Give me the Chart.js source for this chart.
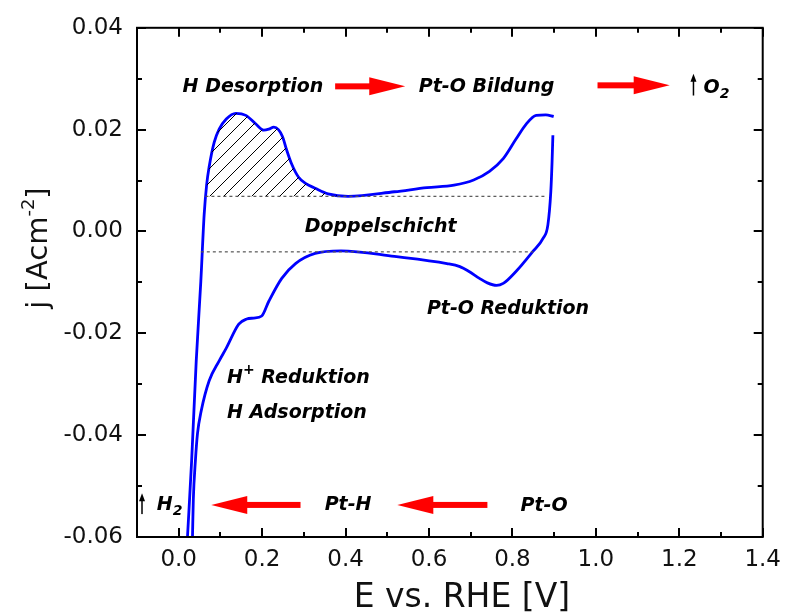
<!DOCTYPE html>
<html>
<head>
<meta charset="utf-8">
<script src="https://cdn.jsdelivr.net/npm/chart.js@4.4.1/dist/chart.umd.min.js"></script>
<style>
  html, body { margin: 0; padding: 0; background: #fff; }
  #wrap { width: 790px; height: 612px; }
</style>
</head>
<body>
<div id="wrap"><canvas id="cvChart" width="790" height="612"></canvas></div>
<script>
// --- DATA ---
// anodic sweep (upper branch), potential E [V] and current density j [A/cm2]
const anodicE = [0.021, 0.031, 0.042, 0.053, 0.061, 0.067, 0.073, 0.085, 0.097, 0.114, 0.137, 0.161, 0.185, 0.204, 0.216, 0.228, 0.239, 0.249, 0.258, 0.270, 0.287, 0.305, 0.327, 0.358, 0.406, 0.517, 0.595, 0.660, 0.707, 0.745, 0.778, 0.809, 0.833, 0.857, 0.880, 0.899];
const anodicJ = [-0.060, -0.045, -0.0254, -0.0098, 0.0033, 0.0092, 0.0127, 0.0175, 0.0201, 0.0221, 0.0232, 0.0228, 0.0211, 0.0199, 0.0201, 0.0205, 0.0200, 0.0186, 0.0162, 0.0134, 0.0107, 0.0094, 0.0085, 0.0074, 0.0069, 0.0078, 0.0086, 0.0091, 0.0101, 0.0118, 0.0143, 0.0182, 0.0211, 0.0228, 0.0229, 0.0226];

// cathodic sweep (lower branch)
const cathodicE = [0.897, 0.895, 0.892, 0.885, 0.873, 0.849, 0.809, 0.778, 0.762, 0.740, 0.721, 0.695, 0.674, 0.643, 0.517, 0.389, 0.327, 0.280, 0.247, 0.216, 0.199, 0.180, 0.163, 0.144, 0.114, 0.097, 0.073, 0.054, 0.045, 0.040, 0.035, 0.033];
const cathodicJ = [0.0189, 0.0136, 0.0078, 0.0013, -0.0014, -0.0039, -0.0078, -0.0102, -0.0106, -0.0101, -0.0092, -0.0078, -0.0069, -0.0063, -0.0049, -0.0038, -0.0043, -0.0063, -0.0092, -0.0137, -0.0166, -0.0170, -0.0172, -0.0182, -0.0229, -0.0254, -0.0293, -0.0352, -0.0397, -0.0450, -0.0527, -0.0600];

// double layer baselines (dashed)
const upperBaseE = [0.064, 0.882];
const upperBaseJ = 0.0069;
const lowerBaseE = [0.053, 0.850];
const lowerBaseJ = -0.0040;

// hatched H desorption area: anodic points above the upper baseline up to this potential
const hatchMaxE = 0.41;

// axis ranges
const xRange = [-0.1, 1.4];
const yRange = [-0.06, 0.04];

// --- annotations (data coordinates) ---
const textNotes = [
    { parts: [{ t: 'H Desorption' }], x: 0.178, y: 0.0283, align: 'center' },
    { parts: [{ t: 'Pt-O Bildung' }], x: 0.738, y: 0.0283, align: 'center' },
    { parts: [{ t: 'O' }, { t: '2', sub: true }], x: 1.258, y: 0.0281, align: 'left' },
    { parts: [{ t: 'Doppelschicht' }], x: 0.484, y: 0.0009, align: 'center' },
    { parts: [{ t: 'Pt-O Reduktion' }], x: 0.595, y: -0.0153, align: 'left' },
    { parts: [{ t: 'H' }, { t: '+', sup: true }, { t: ' Reduktion' }], x: 0.116, y: -0.0287, align: 'left' },
    { parts: [{ t: 'H Adsorption' }], x: 0.116, y: -0.0356, align: 'left' },
    { parts: [{ t: 'H' }, { t: '2', sub: true }], x: -0.0525, y: -0.0537, align: 'left' },
    { parts: [{ t: 'Pt-H' }], x: 0.406, y: -0.0537, align: 'center' },
    { parts: [{ t: 'Pt-O' }], x: 0.876, y: -0.0539, align: 'center' }
];

const arrowNotes = [
    { from: [0.375, 0.0285], to: [0.543, 0.0285], color: '#ff0000', shaft: 6, head: 36, half: 9 },
    { from: [1.004, 0.0287], to: [1.177, 0.0287], color: '#ff0000', shaft: 6, head: 36, half: 9 },
    { from: [0.292, -0.0537], to: [0.078, -0.0537], color: '#ff0000', shaft: 6, head: 36, half: 9 },
    { from: [0.740, -0.0537], to: [0.524, -0.0537], color: '#ff0000', shaft: 6, head: 36, half: 9 },
    { from: [1.234, 0.0267], to: [1.234, 0.0310], color: '#000', shaft: 1.5, head: 8, half: 3 },
    { from: [-0.088, -0.0555], to: [-0.088, -0.0514], color: '#000', shaft: 1.5, head: 8, half: 3 }
];

const toPts = (xs, ys) => xs.map((v, i) => ({ x: v, y: Array.isArray(ys) ? ys[i] : ys }));

const hatchPts = toPts(anodicE, anodicJ).filter(p => p.y >= upperBaseJ && p.x > 0 && p.x <= hatchMaxE);

// hatch pattern
function makeHatch() {
    const s = 14;
    const c = document.createElement('canvas');
    c.width = s; c.height = s;
    const g = c.getContext('2d');
    g.strokeStyle = '#000';
    g.lineWidth = 1;
    g.beginPath();
    g.moveTo(0, s); g.lineTo(s, 0);
    g.moveTo(-2, 2); g.lineTo(2, -2);
    g.moveTo(s - 2, s + 2); g.lineTo(s + 2, s - 2);
    g.stroke();
    return g.createPattern(c, 'repeat');
}

const noteFont = (size) => 'italic bold ' + size + 'px "DejaVu Sans"';

function drawRich(ctx, parts, px, py, align) {
    const base = 19;
    const small = 14;
    let total = 0;
    parts.forEach(p => {
        ctx.font = noteFont(p.sub || p.sup ? small : base);
        p.w = ctx.measureText(p.t).width;
        total += p.w;
    });
    let cx = align === 'center' ? px - total / 2 : px;
    ctx.textAlign = 'left';
    ctx.textBaseline = 'middle';
    parts.forEach(p => {
        ctx.font = noteFont(p.sub || p.sup ? small : base);
        const dy = p.sub ? 6 : (p.sup ? -7 : 0);
        ctx.fillText(p.t, cx, py + dy);
        cx += p.w;
    });
}

function drawArrow(ctx, x0, y0, x1, y1, a) {
    const ang = Math.atan2(y1 - y0, x1 - x0);
    const len = Math.hypot(x1 - x0, y1 - y0);
    ctx.save();
    ctx.translate(x0, y0);
    ctx.rotate(ang);
    ctx.fillStyle = a.color;
    ctx.fillRect(0, -a.shaft / 2, len - a.head + 1, a.shaft);
    ctx.beginPath();
    ctx.moveTo(len, 0);
    ctx.lineTo(len - a.head, -a.half);
    ctx.lineTo(len - a.head, a.half);
    ctx.closePath();
    ctx.fill();
    ctx.restore();
}

// frame, inward ticks, titles and notes
const decorPlugin = {
    id: 'decor',
    afterDraw(chart) {
        const { ctx, chartArea: a, scales: { x, y } } = chart;
        ctx.save();
        ctx.strokeStyle = '#000';
        ctx.lineWidth = 2;
        ctx.strokeRect(a.left, a.top, a.right - a.left, a.bottom - a.top);

        ctx.beginPath();
        x.ticks.forEach(t => {
            const px = Math.round(x.getPixelForValue(t.value));
            const len = t.label ? 9 : 5;
            ctx.moveTo(px, a.bottom); ctx.lineTo(px, a.bottom - len);
            ctx.moveTo(px, a.top); ctx.lineTo(px, a.top + len);
        });
        y.ticks.forEach(t => {
            const py = Math.round(y.getPixelForValue(t.value));
            const len = t.label ? 9 : 5;
            ctx.moveTo(a.left, py); ctx.lineTo(a.left + len, py);
            ctx.moveTo(a.right, py); ctx.lineTo(a.right - len, py);
        });
        ctx.stroke();

        // axis titles
        ctx.fillStyle = '#111';
        ctx.font = '33px "DejaVu Sans"';
        ctx.textAlign = 'center';
        ctx.textBaseline = 'alphabetic';
        ctx.fillText('E vs. RHE [V]', (a.left + a.right) / 2 + 12, 607);

        ctx.save();
        ctx.translate(47, 248);
        ctx.rotate(-Math.PI / 2);
        ctx.textAlign = 'left';
        ctx.font = '29px "DejaVu Sans"';
        const p1 = 'j [Acm', p2 = '-2', p3 = ']';
        const w1 = ctx.measureText(p1).width;
        const w3 = ctx.measureText(p3).width;
        ctx.font = '18px "DejaVu Sans"';
        const w2 = ctx.measureText(p2).width;
        const sx = -(w1 + w2 + w3) / 2;
        ctx.font = '29px "DejaVu Sans"';
        ctx.fillText(p1, sx, 0);
        ctx.font = '18px "DejaVu Sans"';
        ctx.fillText(p2, sx + w1, -13);
        ctx.font = '29px "DejaVu Sans"';
        ctx.fillText(p3, sx + w1 + w2, 0);
        ctx.restore();

        // arrows
        arrowNotes.forEach(n => {
            drawArrow(ctx,
                x.getPixelForValue(n.from[0]), y.getPixelForValue(n.from[1]),
                x.getPixelForValue(n.to[0]), y.getPixelForValue(n.to[1]), n);
        });

        // notes
        ctx.fillStyle = '#000';
        textNotes.forEach(n => {
            drawRich(ctx, n.parts, x.getPixelForValue(n.x), y.getPixelForValue(n.y), n.align);
        });
        ctx.restore();
    }
};

const ctx = document.getElementById('cvChart').getContext('2d');

const curveStyle = {
    showLine: true,
    borderColor: '#0000ff',
    borderWidth: 2.8,
    cubicInterpolationMode: 'monotone',
    pointRadius: 0
};

new Chart(ctx, {
    type: 'scatter',
    data: {
        datasets: [
            {
                data: hatchPts,
                showLine: true,
                borderWidth: 0,
                borderColor: 'rgba(0,0,0,0)',
                backgroundColor: makeHatch(),
                fill: { value: upperBaseJ },
                cubicInterpolationMode: 'monotone',
                pointRadius: 0
            },
            {
                data: toPts(upperBaseE, upperBaseJ),
                showLine: true,
                borderColor: '#555',
                borderWidth: 1.2,
                borderDash: [3, 3],
                pointRadius: 0
            },
            {
                data: toPts(lowerBaseE, lowerBaseJ),
                showLine: true,
                borderColor: '#555',
                borderWidth: 1.2,
                borderDash: [3, 3],
                pointRadius: 0
            },
            Object.assign({ data: toPts(anodicE, anodicJ) }, curveStyle),
            Object.assign({ data: toPts(cathodicE, cathodicJ) }, curveStyle)
        ]
    },
    options: {
        responsive: false,
        animation: false,
        layout: { padding: { top: 25, right: 21, left: 0, bottom: 0 } },
        plugins: {
            legend: { display: false },
            tooltip: { enabled: false }
        },
        scales: {
            x: {
                type: 'linear',
                min: xRange[0],
                max: xRange[1],
                border: { display: false },
                grid: { display: false, drawTicks: false },
                afterFit: (s) => { s.height = 75; },
                ticks: {
                    stepSize: 0.1,
                    autoSkip: false,
                    maxRotation: 0,
                    padding: 9,
                    color: '#111',
                    font: { family: 'DejaVu Sans', size: 23 },
                    callback: (v) => {
                        const k = Math.round(v * 10);
                        return (k >= 0 && k % 2 === 0) ? (k / 10).toFixed(1) : '';
                    }
                }
            },
            y: {
                type: 'linear',
                min: yRange[0],
                max: yRange[1],
                border: { display: false },
                grid: { display: false, drawTicks: false },
                afterFit: (s) => { s.width = 137; },
                ticks: {
                    stepSize: 0.01,
                    autoSkip: false,
                    padding: 14,
                    color: '#111',
                    font: { family: 'DejaVu Sans', size: 23 },
                    callback: (v) => {
                        const k = Math.round(v * 100);
                        return (k % 2 === 0) ? (k / 100).toFixed(2) : '';
                    }
                }
            }
        }
    },
    plugins: [decorPlugin]
});
</script>
</body>
</html>
